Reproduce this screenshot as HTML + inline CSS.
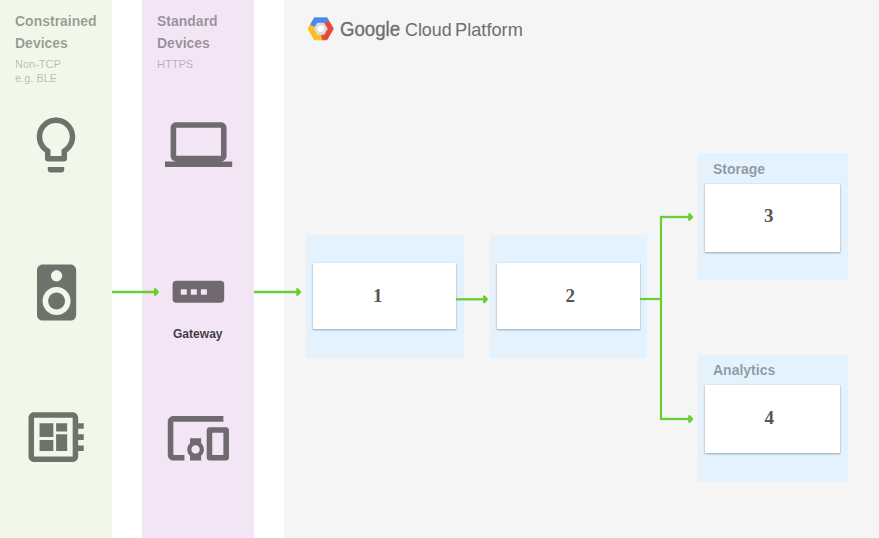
<!DOCTYPE html>
<html><head><meta charset="utf-8"><style>
html,body{margin:0;padding:0;width:879px;height:538px;overflow:hidden;background:#fff}
.b,.t,.ic{position:absolute}
.t{white-space:nowrap;font-family:"Liberation Sans",sans-serif}
.ic{overflow:visible}
</style></head><body>
<div class="b" style="left:0px;top:0px;width:112px;height:538px;background:#f1f8e9"></div>
<div class="b" style="left:142px;top:0px;width:112px;height:538px;background:#f3e5f5"></div>
<div class="b" style="left:284px;top:0px;width:595px;height:538px;background:#f5f5f5"></div>
<div class="t" style="left:15px;top:13.73px;font-size:14.5px;line-height:14.5px;font-weight:700;color:rgba(0,0,0,0.38);font-family:'Liberation Sans',sans-serif;transform:scale(0.965,1.0);transform-origin:0 12.27px;">Constrained</div>
<div class="t" style="left:15px;top:35.93px;font-size:14.5px;line-height:14.5px;font-weight:700;color:rgba(0,0,0,0.38);font-family:'Liberation Sans',sans-serif;transform:scale(0.965,1.0);transform-origin:0 12.27px;">Devices</div>
<div class="t" style="left:15px;top:58.89px;font-size:11px;line-height:11px;font-weight:400;color:rgba(0,0,0,0.26);font-family:'Liberation Sans',sans-serif;">Non-TCP</div>
<div class="t" style="left:15px;top:73.39px;font-size:11px;line-height:11px;font-weight:400;color:rgba(0,0,0,0.26);font-family:'Liberation Sans',sans-serif;">e.g. BLE</div>
<div class="t" style="left:157px;top:13.73px;font-size:14.5px;line-height:14.5px;font-weight:700;color:rgba(0,0,0,0.38);font-family:'Liberation Sans',sans-serif;transform:scale(0.965,1.0);transform-origin:0 12.27px;">Standard</div>
<div class="t" style="left:157px;top:35.93px;font-size:14.5px;line-height:14.5px;font-weight:700;color:rgba(0,0,0,0.38);font-family:'Liberation Sans',sans-serif;transform:scale(0.965,1.0);transform-origin:0 12.27px;">Devices</div>
<div class="t" style="left:157px;top:58.89px;font-size:11px;line-height:11px;font-weight:400;color:rgba(0,0,0,0.26);font-family:'Liberation Sans',sans-serif;">HTTPS</div>
<svg class="ic" style="left:23.25px;top:111.7px;width:66.00px;height:66.00px" viewBox="0 0 24 24"><path fill="rgba(0,0,0,0.54)" d="M9 21c0 .55.45 1 1 1h4c.55 0 1-.45 1-1v-1H9v1zm3-19C8.14 2 5 5.14 5 9c0 2.38 1.19 4.47 3 5.74V17c0 .55.45 1 1 1h6c.55 0 1-.45 1-1v-2.26c1.81-1.27 3-3.36 3-5.74 0-3.86-3.14-7-7-7zm2.85 11.1l-.85.6V16h-4v-2.3l-.85-.6C7.8 12.16 7 10.63 7 9c0-2.76 2.24-5 5-5s5 2.24 5 5c0 1.63-.8 3.16-2.15 4.1z"/></svg>
<svg class="ic" style="left:164.5px;top:111.2px;width:67.20px;height:67.20px" viewBox="0 0 24 24"><path fill="rgba(0,0,0,0.54)" d="M20 18c1.1 0 2-.9 2-2V6c0-1.1-.9-2-2-2H4c-1.1 0-2 .9-2 2v10c0 1.1.9 2 2 2H0v2h24v-2h-4zM4 6h16v10H4V6z"/></svg>
<svg class="ic" style="left:22.5px;top:258.5px;width:67.20px;height:67.20px" viewBox="0 0 24 24"><path fill="rgba(0,0,0,0.54)" d="M17 2H7c-1.1 0-2 .9-2 2v16c0 1.1.9 1.99 2 1.99L17 22c1.1 0 2-.9 2-2V4c0-1.1-.9-2-2-2zm-5 2c1.1 0 2 .9 2 2s-.9 2-2 2c-1.11 0-2-.9-2-2s.89-2 2-2zm0 16c-2.76 0-5-2.24-5-5s2.24-5 5-5 5 2.24 5 5-2.24 5-5 5zm0-8c-1.66 0-3 1.34-3 3s1.34 3 3 3 3-1.34 3-3-1.34-3-3-3z"/></svg>
<svg class="ic" style="left:22.6px;top:404.2px;width:66.24px;height:66.24px" viewBox="0 0 24 24"><path fill="rgba(0,0,0,0.54)" d="M22 9V7h-2V5c0-1.1-.9-2-2-2H4c-1.1 0-2 .9-2 2v14c0 1.1.9 2 2 2h14c1.1 0 2-.9 2-2v-2h2v-2h-2v-2h2v-2h-2V9h2zm-4 10H4V5h14v14zM6 13h5v4H6zm6-6h4v3h-4zM6 7h5v5H6zm6 4h4v6h-4z"/></svg>
<svg class="ic" style="left:164.5px;top:404.5px;width:66.72px;height:66.72px" viewBox="0 0 24 24"><path fill="rgba(0,0,0,0.54)" d="M3 6h18V4H3c-1.1 0-2 .9-2 2v12c0 1.1.9 2 2 2h4v-2H3V6zm10 6H9v1.78c-.61.55-1 1.33-1 2.22s.39 1.67 1 2.22V20h4v-1.78c.61-.55 1-1.34 1-2.22s-.39-1.67-1-2.22V12zm-2 5.5c-.83 0-1.5-.67-1.5-1.5s.67-1.5 1.5-1.5 1.5.67 1.5 1.5-.67 1.5-1.5 1.5zM22 8h-6c-.5 0-1 .5-1 1v10c0 .5.5 1 1 1h6c.5 0 1-.5 1-1V9c0-.5-.5-1-1-1zm-1 10h-4v-8h4v8z"/></svg>
<svg class="ic" style="left:0;top:0;width:879px;height:538px" viewBox="0 0 879 538"><rect x="172.6" y="280.7" width="51.6" height="22" rx="3.7" fill="rgba(0,0,0,0.54)"/><rect x="180.8" y="289.3" width="6" height="5.4" fill="#f3e5f5"/><rect x="190.8" y="289.3" width="6" height="5.4" fill="#f3e5f5"/><rect x="200.9" y="289.3" width="6" height="5.4" fill="#f3e5f5"/></svg>
<div class="t" style="left:173.4px;top:326.96px;font-size:13.4px;line-height:13.4px;font-weight:700;color:rgba(0,0,0,0.75);font-family:'Liberation Sans',sans-serif;transform:scale(0.9,1.0);transform-origin:0 11.34px;">Gateway</div>
<div class="b" style="left:306px;top:235px;width:158px;height:123px;background:#e3f2fd"></div>
<div class="b" style="left:490px;top:235px;width:157px;height:123px;background:#e3f2fd"></div>
<div class="b" style="left:697.5px;top:153.3px;width:150.5px;height:126.89999999999998px;background:#e3f2fd"></div>
<div class="b" style="left:697.5px;top:355px;width:150.5px;height:126.80000000000001px;background:#e3f2fd"></div>
<div class="b" style="left:313px;top:263px;width:143px;height:66px;background:#fff;box-shadow:0 1px 2px rgba(0,0,0,0.3),0 0 1px rgba(0,0,0,0.15)"></div>
<div class="b" style="left:497px;top:263px;width:143px;height:66px;background:#fff;box-shadow:0 1px 2px rgba(0,0,0,0.3),0 0 1px rgba(0,0,0,0.15)"></div>
<div class="b" style="left:705px;top:184px;width:135px;height:68px;background:#fff;box-shadow:0 1px 2px rgba(0,0,0,0.3),0 0 1px rgba(0,0,0,0.15)"></div>
<div class="b" style="left:705px;top:385px;width:135px;height:68px;background:#fff;box-shadow:0 1px 2px rgba(0,0,0,0.3),0 0 1px rgba(0,0,0,0.15)"></div>
<div class="t" style="left:712.5px;top:161.53px;font-size:14.5px;line-height:14.5px;font-weight:700;color:rgba(0,0,0,0.38);font-family:'Liberation Sans',sans-serif;transform:scale(0.965,1.0);transform-origin:0 12.27px;">Storage</div>
<div class="t" style="left:712.5px;top:362.63px;font-size:14.5px;line-height:14.5px;font-weight:700;color:rgba(0,0,0,0.38);font-family:'Liberation Sans',sans-serif;transform:scale(0.965,1.0);transform-origin:0 12.27px;">Analytics</div>
<div class="t" style="left:373px;top:286.09px;font-size:19px;line-height:19px;font-weight:700;color:#555;font-family:'Liberation Serif',serif;">1</div>
<div class="t" style="left:565.5px;top:286.09px;font-size:19px;line-height:19px;font-weight:700;color:#555;font-family:'Liberation Serif',serif;">2</div>
<div class="t" style="left:764px;top:205.89px;font-size:19px;line-height:19px;font-weight:700;color:#555;font-family:'Liberation Serif',serif;">3</div>
<div class="t" style="left:764.5px;top:407.59px;font-size:19px;line-height:19px;font-weight:700;color:#555;font-family:'Liberation Serif',serif;">4</div>
<svg class="ic" style="left:0;top:0;width:879px;height:538px" viewBox="0 0 879 538"><line x1="112" y1="292" x2="157" y2="292" stroke="#69cd34" stroke-width="2.3"/><polygon points="155.2,289.2 157.8,292 155.2,294.8" fill="#69cd34" stroke="#69cd34" stroke-width="2.4" stroke-linejoin="round"/><line x1="254" y1="292" x2="299.2" y2="292" stroke="#69cd34" stroke-width="2.3"/><polygon points="297.4,289.2 300.0,292 297.4,294.8" fill="#69cd34" stroke="#69cd34" stroke-width="2.4" stroke-linejoin="round"/><line x1="456" y1="299.3" x2="486" y2="299.3" stroke="#69cd34" stroke-width="2.3"/><polygon points="484.2,296.5 486.8,299.3 484.2,302.1" fill="#69cd34" stroke="#69cd34" stroke-width="2.4" stroke-linejoin="round"/><line x1="640" y1="299" x2="661" y2="299" stroke="#69cd34" stroke-width="2.2"/><line x1="661" y1="216" x2="661" y2="420" stroke="#69cd34" stroke-width="2.2"/><line x1="660" y1="217" x2="691.2" y2="217" stroke="#69cd34" stroke-width="2.3"/><polygon points="689.4000000000001,214.2 692.0,217 689.4000000000001,219.8" fill="#69cd34" stroke="#69cd34" stroke-width="2.4" stroke-linejoin="round"/><line x1="660" y1="419" x2="691.2" y2="419" stroke="#69cd34" stroke-width="2.3"/><polygon points="689.4000000000001,416.2 692.0,419 689.4000000000001,421.8" fill="#69cd34" stroke="#69cd34" stroke-width="2.4" stroke-linejoin="round"/></svg>
<svg class="ic" style="left:0;top:0;width:879px;height:538px" viewBox="0 0 879 538"><polygon points="328.10,28.80 324.40,35.21 317.00,35.21 313.30,28.80 317.00,22.39 324.40,22.39" fill="#dcdcdf" /><circle cx="320.7" cy="28.8" r="3.3" fill="#fff"/><polygon points="322.48,39.80 314.35,39.80 308.00,28.80 310.54,24.40 314.78,26.24 313.30,28.80 317.00,35.21 321.74,35.21" fill="#f8bf1e" stroke="#f8bf1e" stroke-linejoin="round" stroke-width="0.8"/><polygon points="328.64,20.55 333.40,28.80 327.05,39.80 322.48,39.80 321.74,35.21 324.40,35.21 328.10,28.80 324.40,22.39" fill="#e5483a" stroke="#e5483a" stroke-linejoin="round" stroke-width="0.8"/><polygon points="310.54,24.40 314.35,17.80 327.05,17.80 328.64,20.55 324.40,22.39 324.40,22.39 317.00,22.39 314.78,26.24" fill="#4a87ee" stroke="#4a87ee" stroke-linejoin="round" stroke-width="0.8"/></svg>
<div class="t" style="left:340.3px;top:19.71px;font-size:19.6px;line-height:19.6px;font-weight:400;color:#6f6f6f;font-family:'Liberation Sans',sans-serif;transform:scale(0.95,1.0);transform-origin:0 16.59px;-webkit-text-stroke:0.35px #6f6f6f">Google</div>
<div class="t" style="left:405.2px;top:20.86px;font-size:18.6px;line-height:18.6px;font-weight:400;color:#6f6f6f;font-family:'Liberation Sans',sans-serif;transform:scale(0.96,1.0);transform-origin:0 15.74px;">Cloud</div>
<div class="t" style="left:454.8px;top:20.86px;font-size:18.6px;line-height:18.6px;font-weight:400;color:#6f6f6f;font-family:'Liberation Sans',sans-serif;transform:scale(0.98,1.0);transform-origin:0 15.74px;">Platform</div>
</body></html>
